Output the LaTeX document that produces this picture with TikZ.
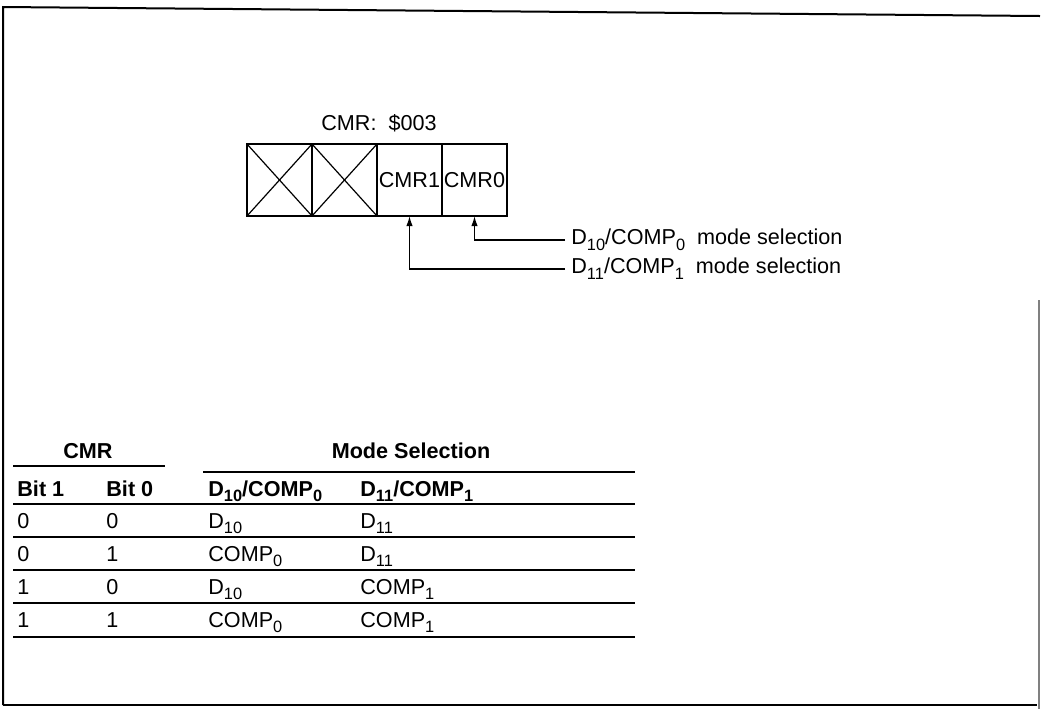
\documentclass[tikz,border=0pt]{standalone}
\usepackage{fontspec}
\setmainfont{Liberation Sans}
\usepackage{tikz}
\usetikzlibrary{arrows.meta,positioning,calc}
\newcommand{\lo}[1]{\raisebox{-0.5ex}{\fontsize{8.2}{9}\selectfont #1}}

\begin{document}
\begin{tikzpicture}[x=0.5pt, y=-0.5pt, >={Latex[length=5pt,width=3.2pt]},
  every node/.style={font=\fontsize{10.8}{13}\selectfont, inner sep=0pt},
  cell/.style={draw, line width=1pt, minimum width=32.5pt, minimum height=36pt, outer sep=0pt},
  cellx/.style={cell, path picture={\draw[line width=0.6pt] (path picture bounding box.north west) -- (path picture bounding box.south east) (path picture bounding box.south west) -- (path picture bounding box.north east);}},
  hdr/.style={font=\fontsize{10.8}{13}\selectfont\bfseries},
  rule/.style={line width=1pt}]
  \useasboundingbox (0,0) rectangle (1041,709);
  % frame
  \draw[line width=1pt] (3,705) -- (3,7) -- (1040,16);
  \draw[line width=1pt] (3,705) -- (1037,705);
  \draw[gray, line width=0.6pt] (1039,300) -- (1039,709);

  % register
  \node (title) at (379,123) {CMR:\ \ \$003};
  \node[cellx, anchor=north west] (c3) at (247,144) {};
  \node[cellx, right=0pt of c3] (c2) {};
  \node[cell, right=0pt of c2] (c1) {CMR1};
  \node[cell, right=0pt of c1] (c0) {CMR0};

  \node[anchor=west, inner sep=3pt] (sel0) at (565,240) {D\lo{10}/COMP\lo{0}\ \ mode selection};
  \node[anchor=west, inner sep=3pt] (sel1) at (565,269) {D\lo{11}/COMP\lo{1}\ \ mode selection};
  \draw[->, line width=0.7pt] (sel0.west) -| (c0.south);
  \draw[->, line width=0.7pt] (sel1.west) -| (c1.south);

  % table
  \node[hdr] (hcmr) at (88,451) {CMR};
  \node[hdr] (hmode) at (411,451) {Mode Selection};
  \draw[rule] (13,466) -- (165,466);
  \draw[rule] (203,472) -- (635,472);
  \node[hdr, anchor=base west] (hb1) at (17,496) {Bit 1};
  \node[hdr, anchor=base west] (hb0) at (106,496) {Bit 0};
  \node[hdr, anchor=base west] (hm0) at (208,496) {D\lo{10}/COMP\lo{0}};
  \node[hdr, anchor=base west] (hm1) at (360,496) {D\lo{11}/COMP\lo{1}};
  \foreach \y in {504,537,570,603} \draw[rule] (13,\y) -- (635,\y);
  \draw[line width=1.4pt] (13,637) -- (635,637);
  \foreach \b/\c/\m/\n [count=\i] in {0/0/D\lo{10}/D\lo{11}, 0/1/COMP\lo{0}/D\lo{11}, 1/0/D\lo{10}/COMP\lo{1}, 1/1/COMP\lo{0}/COMP\lo{1}}{
    \node[anchor=base west] (r\i b1) at (17,495+33*\i) {\b};
    \node[anchor=base west] (r\i b0) at (106,495+33*\i) {\c};
    \node[anchor=base west] (r\i m0) at (208,495+33*\i) {\m};
    \node[anchor=base west] (r\i m1) at (360,495+33*\i) {\n};
  }
\end{tikzpicture}
\end{document}
